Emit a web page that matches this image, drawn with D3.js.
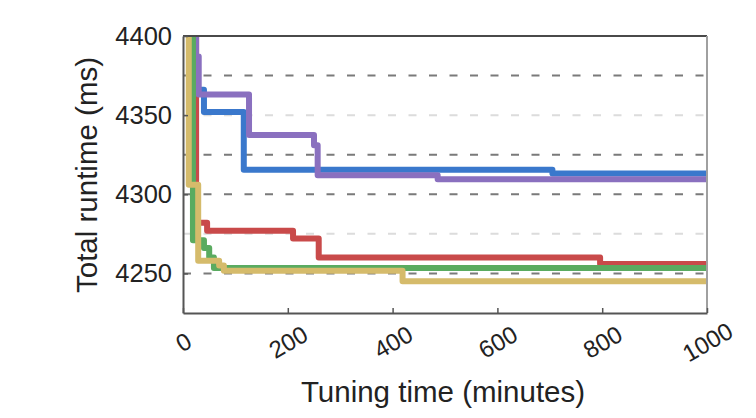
<!DOCTYPE html>
<html>
<head>
<meta charset="utf-8">
<script src="https://cdn.jsdelivr.net/npm/d3@7"></script>
<style>
  body { margin: 0; background: #fff; }
  text { font-family: "Liberation Sans", Arial, sans-serif; fill: #222; }
</style>
</head>
<body>
<div id="chart"></div>
<script>
// data: step curves, [minutes, runtime ms]
var blueRun   = [[0, 4450], [15, 4366], [40, 4352], [116, 4315.5], [705, 4313.2], [1000, 4313.2]];
var purpleRun = [[0, 4450], [25, 4387], [30, 4363], [126, 4337.5], [250, 4331], [257, 4312], [486, 4309.5], [1000, 4309.5]];
var redRun    = [[0, 4450], [25, 4282], [46, 4277], [210, 4272], [259, 4260], [796, 4256], [1000, 4256]];
var greenRun  = [[0, 4450], [19, 4271], [40, 4266], [50, 4260], [59, 4253.5], [1000, 4253.5]];
var yellowRun = [[0, 4450], [11, 4306], [29, 4258], [69, 4255], [78, 4251.7], [419, 4245], [1000, 4245]];

var xTicks = [0, 200, 400, 600, 800, 1000];
var yTicks = [4250, 4300, 4350, 4400];
var gridDark = [4375, 4325, 4300, 4250];
var gridLight = [4350, 4275];

// drawing order: red underneath, yellow on top
var series = [
  { name: "red", values: redRun, color: "#c94a4a" },
  { name: "blue", values: blueRun, color: "#3a78cc" },
  { name: "purple", values: purpleRun, color: "#8a70bf" },
  { name: "green", values: greenRun, color: "#5aab60" },
  { name: "yellow", values: yellowRun, color: "#d5bb6b" }
];

var W = 756, H = 418;
var margin = {top: 36, right: 49, bottom: 105, left: 183};
var width = W - margin.left - margin.right;
var height = H - margin.top - margin.bottom;

var svg = d3.select("#chart")
  .append("svg")
  .attr("width", W)
  .attr("height", H)
  .append("g")
  .attr("transform", "translate(" + margin.left + "," + margin.top + ")");

var x = d3.scaleLinear().domain([0, 1000]).range([0, width]);
var y = d3.scaleLinear().domain([4225, 4400]).range([height, 0]);

svg.append("clipPath").attr("id", "plotclip")
  .append("rect").attr("x", 0).attr("y", 0).attr("width", width).attr("height", height);

// grid lines (dashed)
svg.selectAll(".gridd")
  .data(gridDark)
  .enter().append("line")
  .attr("x1", 0).attr("x2", width)
  .attr("y1", function(d) { return y(d); })
  .attr("y2", function(d) { return y(d); })
  .attr("stroke", "#7a7a7a")
  .attr("stroke-width", 2)
  .attr("stroke-dasharray", "8,12.5");

svg.selectAll(".gridl")
  .data(gridLight)
  .enter().append("line")
  .attr("x1", 0).attr("x2", width)
  .attr("y1", function(d) { return y(d); })
  .attr("y2", function(d) { return y(d); })
  .attr("stroke", "#dcdcdc")
  .attr("stroke-width", 2)
  .attr("stroke-dasharray", "8,12.5");

// lines
var line = d3.line()
  .x(function(d) { return x(d[0]); })
  .y(function(d) { return y(d[1]); })
  .curve(d3.curveStepAfter);

svg.append("g").attr("clip-path", "url(#plotclip)")
  .selectAll(".run")
  .data(series)
  .enter().append("path")
  .attr("class", "run")
  .attr("d", function(d) { return line(d.values); })
  .attr("fill", "none")
  .attr("stroke", function(d) { return d.color; })
  .attr("stroke-width", 6)
  .attr("stroke-linejoin", "round")
  .attr("stroke-linecap", "round");

// frame
svg.append("line").attr("x1", 0).attr("x2", width).attr("y1", 0).attr("y2", 0)
  .attr("stroke", "#4a4a4a").attr("stroke-width", 2);
svg.append("line").attr("x1", width).attr("x2", width).attr("y1", 0).attr("y2", height)
  .attr("stroke", "#a0a0a0").attr("stroke-width", 2);

// axes
var yAxis = svg.append("g")
  .call(d3.axisLeft(y).tickValues(yTicks).tickFormat(d3.format("d"))
    .tickSizeInner(-5).tickSizeOuter(0).tickPadding(11));
yAxis.select(".domain").attr("stroke", "#555").attr("stroke-width", 2);
yAxis.selectAll(".tick line").attr("stroke", "#555").attr("stroke-width", 1.5);
yAxis.selectAll("text")
  .attr("font-size", "25.5px")
  .attr("font-family", "Liberation Sans, Arial, sans-serif")
  .attr("fill", "#222");

var xAxis = svg.append("g")
  .attr("transform", "translate(0," + height + ")")
  .call(d3.axisBottom(x).tickValues(xTicks).tickFormat(d3.format("d"))
    .tickSizeInner(-5).tickSizeOuter(0));
xAxis.select(".domain").attr("stroke", "#555").attr("stroke-width", 2);
xAxis.selectAll(".tick line").attr("stroke", "#555").attr("stroke-width", 1.5);
xAxis.selectAll("text")
  .attr("y", 0)
  .attr("dy", 0)
  .attr("dominant-baseline", "central")
  .attr("text-anchor", "middle")
  .attr("transform", "translate(0,29) rotate(-30)")
  .attr("font-size", "24px")
  .attr("font-family", "Liberation Sans, Arial, sans-serif")
  .attr("fill", "#222");

// axis titles
svg.append("text")
  .attr("x", 443 - margin.left)
  .attr("y", 402 - margin.top)
  .attr("text-anchor", "middle")
  .attr("font-size", "29.5px")
  .text("Tuning time (minutes)");

svg.append("text")
  .attr("transform", "translate(" + (97 - margin.left) + "," + (175 - margin.top) + ") rotate(-90)")
  .attr("text-anchor", "middle")
  .attr("font-size", "29.5px")
  .text("Total runtime (ms)");
</script>
</body>
</html>
